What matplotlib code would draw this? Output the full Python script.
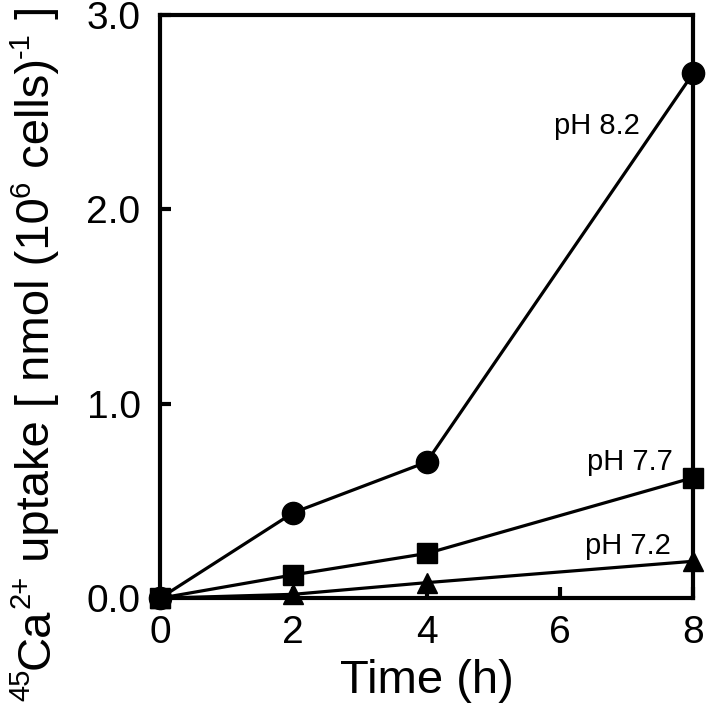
import numpy as np
import matplotlib
matplotlib.use("Agg")
from matplotlib import pyplot as plt
from matplotlib.transforms import IdentityTransform

plt.rcParams['font.family'] = ['Liberation Sans', 'DejaVu Sans']

# data
time_h = [0, 2, 4, 8]
ph82 = [0.0, 0.44, 0.70, 2.70]
ph77 = [0.0, 0.12, 0.23, 0.62]
ph72 = [0.0, 0.02, 0.08, 0.19]

series = [
    ("pH 8.2", ph82, "o", 16),
    ("pH 7.7", ph77, "s", 15),
    ("pH 7.2", ph72, "^", 15),
]

# y label pieces: (text, is_superscript)
ylabel_parts = [("45", True), ("Ca", False), ("2+", True),
                (" uptake [ nmol (10", False), ("6", True),
                (" cells)", False), ("-1", True), (" ]", False)]

fig = plt.figure(figsize=(7.08, 7.13), dpi=100)
ax = fig.add_axes([0.226, 0.161, 0.753, 0.818])

for name, vals, mk, ms in series:
    ax.plot(time_h, vals, color="black", lw=2.3, marker=mk, ms=ms,
            clip_on=False, zorder=3)

ax.set_xlim(0, 8)
ax.set_ylim(0, 3)
ax.set_xticks([0, 2, 4, 6, 8])
ax.set_yticks([0, 1, 2, 3])
ax.set_yticklabels(["0.0", "1.0", "2.0", "3.0"])
ax.tick_params(direction="in", length=8, width=3, labelsize=28,
               top=False, right=False)
ax.tick_params(axis="y", pad=14)
ax.tick_params(axis="x", pad=12)
for s in ax.spines.values():
    s.set_linewidth(3)

ax.set_xlabel("Time (h)", fontsize=34)
ax.xaxis.set_label_coords(0.5, -0.105)

# curve labels
ax.text(6.56, 2.43, "pH 8.2", fontsize=21, ha="center", va="center")
ax.text(7.69, 0.70, "pH 7.7", fontsize=21, ha="right", va="center")
ax.text(7.66, 0.27, "pH 7.2", fontsize=21, ha="right", va="center")

# rotated y label with small superscripts, built piece by piece (pixels)
renderer = fig.canvas.get_renderer()
main_fs = 34
sup_fs = 21


def text_width(s, fs):
    t = fig.text(0, 0, "|" + s + "|", fontsize=fs)
    t2 = fig.text(0, 0, "||", fontsize=fs)
    w = t.get_window_extent(renderer).width - t2.get_window_extent(renderer).width
    t.remove()
    t2.remove()
    return w


base_x = 49      # baseline, pixels from left
y = 12           # start, pixels from bottom
for s, sup in ylabel_parts:
    fs = sup_fs if sup else main_fs
    x = base_x - (0.42 * main_fs * 100 / 72 if sup else 0)
    fig.text(x, y, s, fontsize=fs, rotation=90, rotation_mode="anchor",
             ha="left", va="baseline", transform=IdentityTransform())
    y += text_width(s, fs)

fig.savefig("out.png", dpi=100)
